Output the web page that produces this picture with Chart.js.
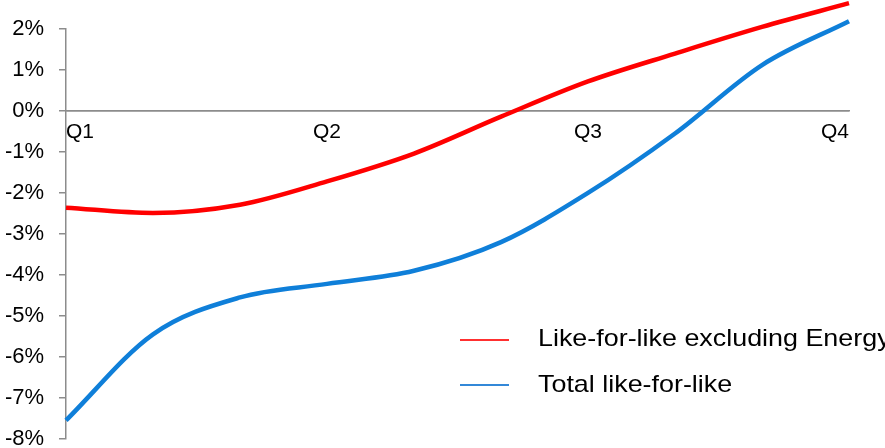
<!DOCTYPE html>
<html>
<head>
<meta charset="utf-8">
<script src="https://cdn.jsdelivr.net/npm/chart.js@4/dist/chart.umd.min.js"></script>
<style>
  html, body { margin: 0; padding: 0; background: #fff; }
  #wrap { position: relative; width: 885px; height: 448px; overflow: hidden; }
  canvas { position: absolute; left: 0; top: 0; }
  .leg { position: absolute; font-family: "Liberation Sans", Arial, sans-serif; font-size: 24px; color: #000; white-space: nowrap; line-height: 24px; transform: scaleX(1.12); transform-origin: 0 0; }
  .legline { position: absolute; height: 2px; width: 49px; }
</style>
</head>
<body>
<div id="wrap">
  <canvas id="c" width="885" height="467"></canvas>
  <div class="legline" style="left:460px; top:339px; background:#ff3030;"></div>
  <div class="leg" style="left:538px; top:326px;">Like-for-like excluding Energy</div>
  <div class="legline" style="left:460px; top:384px; background:#3388d8;"></div>
  <div class="leg" style="left:538px; top:372px;">Total like-for-like</div>
</div>
<script>
const categories = ["Q1", "", "", "Q2", "", "", "Q3", "", "", "Q4"];
const likeForLikeExEnergy = [-2.36, -2.49, -2.29, -1.72, -1.04, -0.14, 0.72, 1.40, 2.05, 2.63];
const totalLikeForLike = [-7.55, -5.45, -4.55, -4.22, -3.90, -3.20, -2.00, -0.55, 1.12, 2.19];
const yTicks = [2, 1, 0, -1, -2, -3, -4, -5, -6, -7, -8];

const FONT = "'Liberation Sans', Arial, sans-serif";

new Chart(document.getElementById('c'), {
  type: 'line',
  data: {
    labels: categories,
    datasets: [
      { label: 'Like-for-like excluding Energy', data: likeForLikeExEnergy, borderColor: '#ff0000', borderWidth: 4.5, pointRadius: 0, cubicInterpolationMode: 'monotone', clip: false },
      { label: 'Total like-for-like', data: totalLikeForLike, borderColor: '#0f7fd9', borderWidth: 4.5, pointRadius: 0, cubicInterpolationMode: 'monotone', clip: false }
    ]
  },
  options: {
    responsive: false,
    animation: false,
    layout: { padding: { left: 0, top: 29, right: 36, bottom: 11 } },
    plugins: { legend: { display: false }, tooltip: { enabled: false } },
    scales: {
      x: {
        type: 'category',
        offset: false,
        position: { y: 0 },
        afterFit: (s) => { s.height = 0; },
        border: { display: true, color: '#8c8c8c', width: 1.5 },
        grid: { display: false, drawTicks: false },
        ticks: { align: 'inner', padding: 9, autoSkip: false, color: '#000', font: { family: FONT, size: 21 }, maxRotation: 0 }
      },
      y: {
        min: -8, max: 2,
        afterBuildTicks: (s) => { s.ticks = yTicks.map(v => ({ value: v })); },
        afterFit: (s) => { s.width = 66; },
        border: { display: true, color: '#8c8c8c', width: 1.5 },
        grid: {
          drawOnChartArea: true,
          color: (ctx) => (ctx.tick && ctx.tick.value === 0) ? '#8c8c8c' : 'rgba(0,0,0,0)',
          lineWidth: 1.5,
          tickColor: '#8c8c8c',
          tickLength: 7
        },
        ticks: { padding: 15, color: '#000', font: { family: FONT, size: 22 }, callback: (v) => v + '%' }
      }
    }
  }
});
</script>
</body>
</html>
